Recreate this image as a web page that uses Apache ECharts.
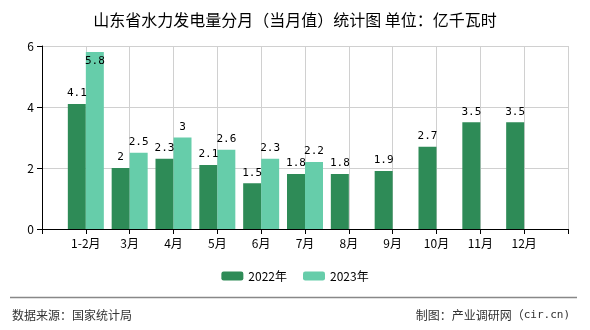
<!DOCTYPE html>
<html>
<head>
<meta charset="utf-8">
<script src="https://cdn.jsdelivr.net/npm/echarts@6/dist/echarts.min.js"></script>
<style>
html,body{margin:0;padding:0;background:#fff;}
#chart{width:590px;height:330px;}
</style>
</head>
<body>
<div id="chart"></div>
<script>
var categories = ['1-2月','3月','4月','5月','6月','7月','8月','9月','10月','11月','12月'];
var values2022 = [4.1, 2, 2.3, 2.1, 1.5, 1.8, 1.8, 1.9, 2.7, 3.5, 3.5];
var values2023 = [5.8, 2.5, 3, 2.6, 2.3, 2.2, null, null, null, null, null];
var seriesNames = ['2022年', '2023年'];
var yTicks = [0, 2, 4, 6];

var FONT = '"Noto Sans CJK SC", sans-serif';
var MONO = '"DejaVu Sans Mono", monospace';
var axisCats = [''].concat(categories).concat(['']);
function pad(arr) {
  return [null].concat(arr.map(function (v) {
    if (v === null) return null;
    return v > 5.5 ? { value: v, label: { position: 'insideTop', distance: 4 } } : v;
  })).concat([null]);
}

var chart = echarts.init(document.getElementById('chart'));
chart.setOption({
  animation: false,
  backgroundColor: '#fff',
  title: {
    text: '山东省水力发电量分月（当月值）统计图 单位：亿千瓦时',
    left: 'center',
    top: 7,
    textStyle: { fontFamily: FONT, fontSize: 16, fontWeight: 'normal', color: '#000' }
  },
  legend: {
    bottom: 43,
    left: 'center',
    itemWidth: 22,
    itemHeight: 9,
    itemGap: 16,
    textStyle: { fontFamily: FONT, fontSize: 12, color: '#000' },
    data: seriesNames
  },
  grid: { left: 42, right: 22, top: 46, bottom: 101 },
  xAxis: {
    type: 'category',
    data: axisCats,
    boundaryGap: false,
    axisLine: { lineStyle: { color: '#000', width: 1 } },
    axisTick: { show: true, length: 5, lineStyle: { color: '#000' } },
    axisLabel: { fontFamily: FONT, fontSize: 12, color: '#000', interval: 0, margin: 8 },
    splitLine: { show: true, lineStyle: { color: '#d0d0d0' } }
  },
  yAxis: {
    type: 'value',
    min: yTicks[0],
    max: yTicks[yTicks.length - 1],
    interval: 2,
    axisLine: { show: true, lineStyle: { color: '#000', width: 1 } },
    axisTick: { show: true, length: 5, lineStyle: { color: '#000' } },
    axisLabel: { fontFamily: FONT, fontSize: 12, color: '#000', margin: 8 },
    splitLine: { show: true, lineStyle: { color: '#d0d0d0' } }
  },
  series: [
    {
      name: seriesNames[0], type: 'bar', data: pad(values2022),
      barWidth: 18, barGap: '0%',
      itemStyle: { color: '#2E8B57' },
      label: { show: true, position: 'top', distance: 5, fontFamily: MONO, fontSize: 11, color: '#000' }
    },
    {
      name: seriesNames[1], type: 'bar', data: pad(values2023),
      barWidth: 18, barGap: '0%',
      itemStyle: { color: '#66CDAA' },
      label: { show: true, position: 'top', distance: 5, fontFamily: MONO, fontSize: 11, color: '#000' }
    }
  ],
  graphic: [
    { type: 'line', shape: { x1: 10, y1: 297.5, x2: 577, y2: 297.5 }, style: { stroke: '#888', lineWidth: 1.5 } },
    { type: 'text', left: 12, top: 309, style: { text: '数据来源：国家统计局', fontFamily: FONT, fontSize: 12, fill: '#333' } },
    { type: 'text', right: 20, top: 309, style: {
        text: '{a|制图：产业调研网（}{b|cir.cn)}',
        rich: {
          a: { fontFamily: FONT, fontSize: 12, fill: '#333', color: '#333' },
          b: { fontFamily: MONO, fontSize: 11, fill: '#333', color: '#333' }
        }
      } }
  ]
});
</script>
</body>
</html>
